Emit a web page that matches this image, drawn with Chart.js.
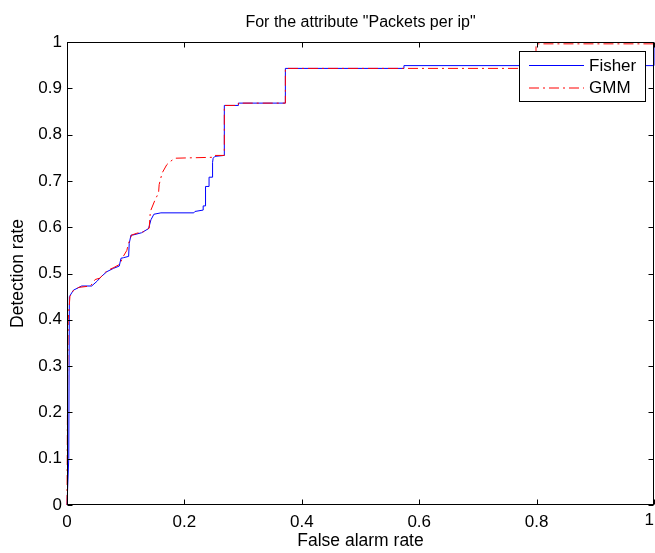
<!DOCTYPE html>
<html>
<head>
<meta charset="utf-8">
<script src="https://cdn.jsdelivr.net/npm/chart.js@4"></script>
<style>
  html, body { margin: 0; padding: 0; background: #fff; }
  #wrap { width: 655px; height: 553px; }
</style>
</head>
<body>
<div id="wrap"><canvas id="roc" width="655" height="553"></canvas></div>
<script>
// ── ROC data ─────────────────────────────────────────────────────────────────
const fisherFpr = [0, 0.003, 0.004, 0.011, 0.025, 0.042, 0.051, 0.059, 0.068, 0.079, 0.089, 0.092, 0.096, 0.105, 0.106,
  0.109, 0.112, 0.127, 0.139, 0.143, 0.148, 0.160, 0.216, 0.218, 0.232, 0.232, 0.236, 0.236, 0.242, 0.242, 0.248, 0.248,
  0.249, 0.252, 0.268, 0.268, 0.292, 0.292, 0.372, 0.372, 0.574, 0.574, 1.000, 1.000];
const fisherTpr = [0, 0.10, 0.45, 0.464, 0.473, 0.473, 0.483, 0.494, 0.504, 0.511, 0.516, 0.533, 0.534, 0.537, 0.565,
  0.583, 0.583, 0.588, 0.597, 0.616, 0.628, 0.631, 0.631, 0.634, 0.637, 0.646, 0.646, 0.688, 0.688, 0.708, 0.708, 0.740,
  0.749, 0.753, 0.755, 0.863, 0.863, 0.868, 0.868, 0.943, 0.943, 0.949, 0.949, 0.996];

const gmmFpr = [0, 0.001, 0.002, 0.005, 0.010, 0.020, 0.040, 0.048, 0.056, 0.068, 0.080, 0.090, 0.095, 0.102, 0.104,
  0.110, 0.119, 0.130, 0.140, 0.142, 0.150, 0.156, 0.157, 0.162, 0.170, 0.176, 0.184, 0.249, 0.252, 0.268, 0.268, 0.292,
  0.292, 0.372, 0.372, 0.799, 0.799, 1.000];
const gmmTpr = [0, 0.27, 0.40, 0.45, 0.462, 0.470, 0.473, 0.487, 0.490, 0.506, 0.513, 0.520, 0.535, 0.550, 0.562,
  0.583, 0.587, 0.590, 0.598, 0.634, 0.659, 0.674, 0.692, 0.717, 0.735, 0.742, 0.749, 0.751, 0.755, 0.755, 0.863, 0.863,
  0.868, 0.868, 0.943, 0.943, 0.996, 0.996];

const xTickValues = [0, 0.2, 0.4, 0.6, 0.8, 1];
const xTickLabels = ['0', '0.2', '0.4', '0.6', '0.8', '1'];
const yTickValues = [0, 0.1, 0.2, 0.3, 0.4, 0.5, 0.6, 0.7, 0.8, 0.9, 1];
const yTickLabels = ['0', '0.1', '0.2', '0.3', '0.4', '0.5', '0.6', '0.7', '0.8', '0.9', '1'];

const seriesNames = ['Fisher', 'GMM'];
const titleText   = 'For the attribute "Packets per ip"';

const FONT = '"Liberation Sans", Arial, Helvetica, sans-serif';
const GMM_DASH = [10, 4, 2, 4];

Chart.defaults.font.family = FONT;
Chart.defaults.color = '#000';

const toPts = (xs, ys) => xs.map((x, i) => ({ x, y: ys[i] }));
const lastX = xTickLabels.length - 1;

// box, inward ticks, title and legend in MATLAB style
const matlabFrame = {
  id: 'matlabFrame',
  afterDraw(chart) {
    const { ctx, chartArea: a, scales: { x, y } } = chart;
    ctx.save();
    ctx.strokeStyle = '#000';
    ctx.lineWidth = 1;
    const L = Math.round(a.left) + 0.5, R = Math.round(a.right) - 0.5;
    const T = Math.round(a.top) + 0.5,  B = Math.round(a.bottom) - 0.5;
    ctx.strokeRect(L, T, R - L, B - T);
    const tl = 5;
    ctx.beginPath();
    xTickValues.forEach(v => {
      const px = Math.round(x.getPixelForValue(v)) + 0.5;
      ctx.moveTo(px, B); ctx.lineTo(px, B - tl);
      ctx.moveTo(px, T); ctx.lineTo(px, T + tl);
    });
    yTickValues.forEach(v => {
      const py = Math.round(y.getPixelForValue(v)) + 0.5;
      ctx.moveTo(L, py); ctx.lineTo(L + tl, py);
      ctx.moveTo(R, py); ctx.lineTo(R - tl, py);
    });
    ctx.stroke();

    // last x label sits against the right edge (it would be cut in half otherwise)
    ctx.fillStyle = '#000';
    ctx.font = `17px ${FONT}`;
    ctx.textAlign = 'right';
    ctx.textBaseline = 'top';
    ctx.fillText(xTickLabels[lastX], chart.width - 1, a.bottom + 7);

    // title
    ctx.font = `16px ${FONT}`;
    ctx.textAlign = 'center';
    ctx.textBaseline = 'alphabetic';
    ctx.fillText(titleText, (a.left + a.right) / 2, 27);

    // legend
    const bx = 519.5, by = 51.5, bw = 126, bh = 50;
    ctx.fillStyle = '#fff';
    ctx.fillRect(bx, by, bw, bh);
    ctx.strokeRect(bx, by, bw, bh);
    const rows = [
      { name: seriesNames[0], color: '#0000ff', dash: [], y: 65 },
      { name: seriesNames[1], color: '#ff0000', dash: GMM_DASH, y: 87.5 },
    ];
    ctx.font = `17px ${FONT}`;
    ctx.textAlign = 'left';
    ctx.textBaseline = 'middle';
    rows.forEach(r => {
      ctx.strokeStyle = r.color;
      ctx.setLineDash(r.dash);
      ctx.beginPath();
      ctx.moveTo(529, r.y + 0.5); ctx.lineTo(584, r.y + 0.5);
      ctx.stroke();
      ctx.setLineDash([]);
      ctx.fillStyle = '#000';
      ctx.fillText(r.name, 589, r.y + 1);
    });
    ctx.restore();
  }
};

new Chart(document.getElementById('roc'), {
  type: 'line',
  data: {
    datasets: [
      { label: seriesNames[0], data: toPts(fisherFpr, fisherTpr), borderColor: '#0000ff', borderWidth: 1,
        pointRadius: 0, tension: 0, fill: false, order: 1, clip: 3 },
      { label: seriesNames[1], data: toPts(gmmFpr, gmmTpr), borderColor: '#ff0000', borderWidth: 1,
        borderDash: GMM_DASH, pointRadius: 0, tension: 0, fill: false, order: 0, clip: 3 },
    ],
  },
  options: {
    responsive: false, animation: false,
    layout: { padding: { top: 42, right: 1, bottom: 0, left: 0 } },
    plugins: { legend: { display: false }, title: { display: false }, tooltip: { enabled: false } },
    scales: {
      x: {
        type: 'linear', min: 0, max: 1,
        afterBuildTicks: s => { s.ticks = xTickValues.map(v => ({ value: v })); },
        afterFit: s => { s.height = 48; s.paddingLeft = 0; s.paddingRight = 0; },
        grid: { display: false, drawTicks: false }, border: { display: false },
        ticks: { padding: 7, maxRotation: 0, autoSkip: false, font: { size: 17 }, color: '#000',
                 callback: (v, i) => (i === lastX ? '' : xTickLabels[i]) },
        title: { display: true, text: 'False alarm rate', font: { size: 17.5 }, color: '#000', padding: { top: 0, bottom: 1.5 } },
      },
      y: {
        type: 'linear', min: 0, max: 1,
        afterBuildTicks: s => { s.ticks = yTickValues.map(v => ({ value: v })); },
        afterFit: s => { s.width = 67; s.paddingTop = 0; s.paddingBottom = 0; },
        grid: { display: false, drawTicks: false }, border: { display: false },
        ticks: { padding: 5, autoSkip: false, font: { size: 17 }, color: '#000',
                 callback: (v, i) => yTickLabels[i] },
        title: { display: true, text: 'Detection rate', font: { size: 17.5 }, color: '#000', padding: { top: 8, bottom: 0 } },
      },
    },
  },
  plugins: [matlabFrame],
});
</script>
</body>
</html>
